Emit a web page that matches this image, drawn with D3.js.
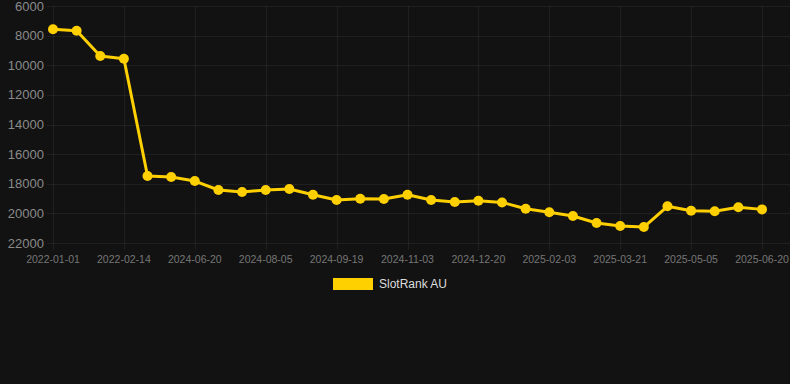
<!DOCTYPE html>
<html>
<head>
<meta charset="utf-8">
<script src="https://cdn.jsdelivr.net/npm/d3@7"></script>
<style>
  html, body { margin: 0; padding: 0; background: #121212; }
  svg { display: block; }
</style>
</head>
<body>
<svg id="chart" width="790" height="384"></svg>
<script>
// --- data ---
const dates = [
  '2022-01-01', '2022-01-16', '2022-01-30', '2022-02-14', '2024-05-20', '2024-06-05',
  '2024-06-20', '2024-07-05', '2024-07-20', '2024-08-05', '2024-08-20', '2024-09-04',
  '2024-09-19', '2024-10-04', '2024-10-19', '2024-11-03', '2024-11-18', '2024-12-05',
  '2024-12-20', '2025-01-04', '2025-01-19', '2025-02-03', '2025-02-18', '2025-03-05',
  '2025-03-21', '2025-04-05', '2025-04-20', '2025-05-05', '2025-05-20', '2025-06-05',
  '2025-06-20'
];
const ranks = [
  7570, 7670, 9380, 9560, 17480, 17550,
  17820, 18420, 18560, 18420, 18360, 18740,
  19100, 19010, 19030, 18740, 19100, 19230,
  19150, 19260, 19690, 19930, 20180, 20650,
  20850, 20920, 19520, 19820, 19860, 19590,
  19730
];
const yTicks = [6000, 8000, 10000, 12000, 14000, 16000, 18000, 20000, 22000];
const seriesName = 'SlotRank AU';

const W = 790, H = 384;
const plotLeft = 53, plotRight = 762, plotTop = 6, plotBottom = 243;
const gridColor = 'rgba(255,255,255,0.06)';
const lineColor = '#FFD000';

const svg = d3.select('#chart');

// x: one slot per date, first and last on the edges
const x = d3.scalePoint().domain(dates).range([plotLeft, plotRight]);
// rank axis runs downward
const y = d3.scaleLinear().domain([6000, 22000]).range([plotTop, plotBottom]);

// horizontal grid + y labels
const yAxis = svg.append('g').attr('class', 'y-axis');
yAxis.selectAll('line')
  .data(yTicks)
  .enter().append('line')
  .attr('x1', plotLeft - 6).attr('x2', W)
  .attr('y1', d => Math.round(y(d)) + 0.5).attr('y2', d => Math.round(y(d)) + 0.5)
  .attr('stroke', gridColor).attr('stroke-width', 1);
yAxis.selectAll('text')
  .data(yTicks)
  .enter().append('text')
  .attr('x', 44).attr('y', d => y(d))
  .attr('text-anchor', 'end')
  .attr('dominant-baseline', 'central')
  .attr('fill', '#8a8a8a')
  .attr('font-family', 'Liberation Sans, Arial, sans-serif')
  .attr('font-size', '13px')
  .text(d => d);

// vertical grid on every third date, with labels
const shown = dates.filter((d, i) => i % 3 === 0);
const xAxis = svg.append('g').attr('class', 'x-axis');
xAxis.selectAll('line')
  .data(shown)
  .enter().append('line')
  .attr('x1', d => Math.round(x(d)) + 0.5).attr('x2', d => Math.round(x(d)) + 0.5)
  .attr('y1', plotTop).attr('y2', plotBottom + 7)
  .attr('stroke', gridColor).attr('stroke-width', 1);
xAxis.selectAll('text')
  .data(shown)
  .enter().append('text')
  .attr('x', d => x(d)).attr('y', 263)
  .attr('text-anchor', 'middle')
  .attr('fill', '#767676')
  .attr('font-family', 'Liberation Sans, Arial, sans-serif')
  .attr('font-size', '10.5px')
  .text(d => d);

// line + points
const line = d3.line()
  .x((d, i) => x(dates[i]))
  .y(d => y(d));

svg.append('path')
  .datum(ranks)
  .attr('d', line)
  .attr('fill', 'none')
  .attr('stroke', lineColor)
  .attr('stroke-width', 3)
  .attr('stroke-linejoin', 'round');

svg.append('g').attr('class', 'points')
  .selectAll('circle')
  .data(ranks)
  .enter().append('circle')
  .attr('cx', (d, i) => x(dates[i]))
  .attr('cy', d => y(d))
  .attr('r', 5)
  .attr('fill', lineColor);

// legend
const legend = svg.append('g').attr('class', 'legend');
legend.append('rect')
  .attr('x', 333).attr('y', 278)
  .attr('width', 40).attr('height', 12)
  .attr('fill', lineColor);
legend.append('text')
  .attr('x', 379).attr('y', 284)
  .attr('dominant-baseline', 'central')
  .attr('fill', '#dddddd')
  .attr('font-family', 'Liberation Sans, Arial, sans-serif')
  .attr('font-size', '12px')
  .text(seriesName);
</script>
</body>
</html>
